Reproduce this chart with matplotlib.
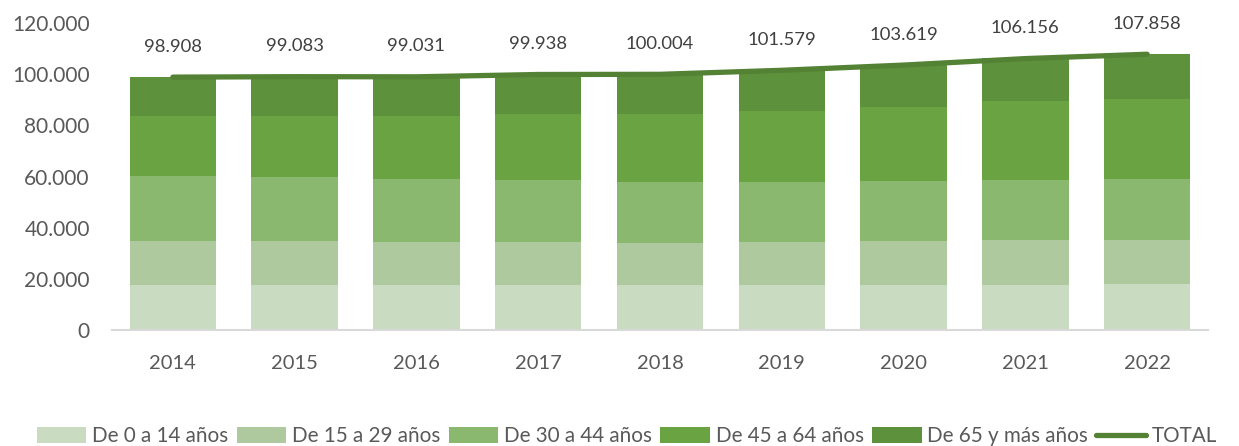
import matplotlib.pyplot as plt
from matplotlib.ticker import FuncFormatter

plt.rcParams['font.family'] = ['Lato', 'DejaVu Sans']

# datos (personas)
years = ['2014', '2015', '2016', '2017', '2018', '2019', '2020', '2021', '2022']
g0_14 = [17600, 17800, 17600, 17800, 17600, 17800, 17800, 17800, 18000]
g15_29 = [17200, 17000, 16800, 16700, 16400, 16600, 17000, 17400, 17400]
g30_44 = [25500, 25000, 24500, 24000, 23800, 23400, 23400, 23400, 23500]
g45_64 = [23600, 24100, 25000, 25800, 26500, 27700, 28900, 30900, 31600]
g65 = [15000, 15200, 15100, 15600, 15700, 16100, 16500, 16700, 17400]
total = [98908, 99083, 99031, 99938, 100004, 101579, 103619, 106156, 107858]

labels = ['De 0 a 14 años', 'De 15 a 29 años', 'De 30 a 44 años',
          'De 45 a 64 años', 'De 65 y más años']
colors = ['#C9DBC1', '#ADC99D', '#89B86E', '#6AA342', '#5E913B']
line_color = '#548235'
text_color = '#595959'

fig = plt.figure(figsize=(12.39, 4.46), dpi=100)
ax = fig.add_axes([0.0904, 0.26, 0.8846, 0.688])

x = list(range(len(years)))
bottom = [0] * len(years)
for serie, lab, col in zip([g0_14, g15_29, g30_44, g45_64, g65], labels, colors):
    ax.bar(x, serie, width=0.71, bottom=bottom, color=col, label=lab, linewidth=0)
    bottom = [b + v for b, v in zip(bottom, serie)]

ax.plot(x, total, color=line_color, lw=3.8, solid_capstyle='round', label='TOTAL')

for i, t in enumerate(total):
    ax.annotate(f'{t:,}'.replace(',', '.'), (i, t), xytext=(0, 22),
                textcoords='offset points', ha='center', va='center',
                fontsize=13.3, color='#404040')

ax.set_xlim(-0.5, 8.5)
ax.set_ylim(0, 120000)
ax.set_yticks(range(0, 120001, 20000))
ax.yaxis.set_major_formatter(FuncFormatter(lambda v, p: f'{int(v):,}'.replace(',', '.')))
ax.set_xticks(x)
ax.set_xticklabels(years)

for s in ['top', 'right', 'left']:
    ax.spines[s].set_visible(False)
ax.spines['bottom'].set_color('#D9D9D9')
ax.spines['bottom'].set_linewidth(1.5)
ax.tick_params(axis='both', length=0, labelsize=14.5, labelcolor=text_color)
ax.tick_params(axis='y', labelsize=15, pad=16)
ax.tick_params(axis='x', pad=18)

handles, labs = ax.get_legend_handles_labels()
handles = handles[1:] + handles[:1]
labs = labs[1:] + labs[:1]
fig.legend(handles, labs, loc='center', bbox_to_anchor=(0.506, 0.022), ncol=6,
           frameon=False, fontsize=14.9, labelcolor=text_color, handlelength=2.4,
           handleheight=0.75, handletextpad=0.28, columnspacing=0.4,
           borderpad=0)

fig.savefig('out.png', dpi=100)
